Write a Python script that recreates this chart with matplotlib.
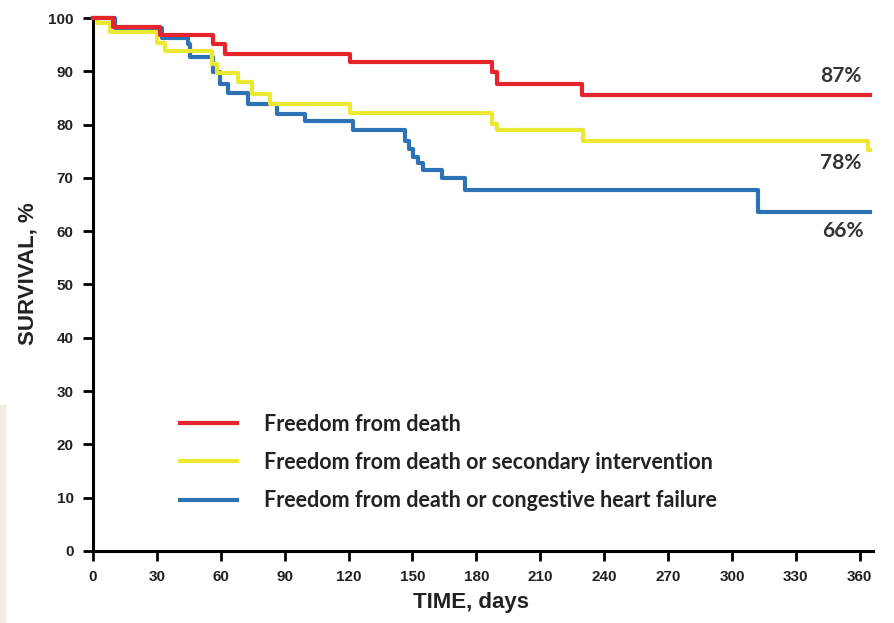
import matplotlib
matplotlib.use('Agg')
import matplotlib.pyplot as plt
from matplotlib.patches import Rectangle

# Kaplan-Meier style step data (days, survival %)
death_days = [0, 9.4, 31.5, 56.3, 62, 120.7, 187.2, 189.5, 229.4, 365]
death_surv = [100, 98.3, 96.8, 95.1, 93.3, 91.8, 89.8, 87.7, 85.5, 85.5]

interv_days = [0, 2, 8, 30, 33.8, 55.9, 58.2, 68, 74.6, 83, 120.7, 187.2, 189.5, 230, 364, 365]
interv_surv = [100, 99.1, 97.3, 95.4, 93.8, 91.4, 89.7, 87.9, 85.8, 83.9, 82.2, 80.2, 78.9, 77.0, 75.3, 75.3]

chf_days = [0, 10.3, 32.4, 44.6, 45.5, 56.3, 59.6, 63.4, 72.8, 86.4, 99.5, 122, 146.5, 148.4,
            150.3, 152.5, 155, 164, 174.6, 312, 365]
chf_surv = [100, 98.2, 96.3, 95.1, 92.6, 89.8, 87.7, 86.0, 83.9, 82.0, 80.7, 78.9, 77.0, 75.4,
            74.0, 72.8, 71.5, 70.0, 67.7, 63.6, 63.6]

labels = ['Freedom from death',
          'Freedom from death or secondary intervention',
          'Freedom from death or congestive heart failure']
end_labels = ['87%', '78%', '66%']
end_label_pos = [(351, 89.2), (351, 72.8), (352, 60.0)]

red = '#e5242b'
yellow = '#ebe832'
blue = '#2e72b6'

fig = plt.figure(figsize=(8.95, 6.23), dpi=100)
fig.patches.append(Rectangle((0, 0), 5 / 895, 0.35, transform=fig.transFigure,
                             color='#f1efdf', zorder=0))
ax = fig.add_axes([0.1039, 0.1156, 0.871, 0.8555])

ax.step(death_days, death_surv, where='post', color=red, lw=3, clip_on=False, zorder=4)
ax.step(interv_days, interv_surv, where='post', color=yellow, lw=3, clip_on=False, zorder=3)
ax.step(chf_days, chf_surv, where='post', color=blue, lw=3, clip_on=False, zorder=2)

for txt, (x, y) in zip(end_labels, end_label_pos):
    ax.text(x, y, txt, ha='center', va='center', fontsize=15, fontweight='bold',
            family='Lato', color='#333333')

ax.set_xlim(0, 366)
ax.set_ylim(0, 100)
ax.set_xticks(range(0, 361, 30))
ax.set_yticks(range(0, 101, 10))

for s in ['top', 'right']:
    ax.spines[s].set_visible(False)
for s in ['left', 'bottom']:
    ax.spines[s].set_linewidth(2.2)
ax.tick_params(direction='out', length=7, width=2, labelsize=11)
ax.tick_params(axis='x', pad=7)
ax.tick_params(axis='y', pad=7)
for lab in ax.get_xticklabels() + ax.get_yticklabels():
    lab.set_fontweight('bold')
    lab.set_family('Liberation Sans')
    lab.set_color('#222222')

ax.set_xlabel('TIME, days', fontsize=16, fontweight='bold', family='Liberation Sans',
              color='#222222')
ax.set_ylabel('SURVIVAL, %', fontsize=16, fontweight='bold', family='Liberation Sans',
              color='#222222')
ax.xaxis.set_label_coords(0.485, -0.077)
ax.yaxis.set_label_coords(-0.07, 0.52)

handles = [plt.Line2D([], [], color=c, lw=3) for c in (red, yellow, blue)]
leg = ax.legend(handles, labels, loc='center left', bbox_to_anchor=(0.112, 0.166),
                frameon=False, borderpad=0, borderaxespad=0, handlelength=2.65,
                handletextpad=1.25, labelspacing=0.8,
                prop={'family': 'Lato', 'weight': 'bold', 'size': 15.5})
for t in leg.get_texts():
    t.set_color('#222222')

fig.savefig('out.png', dpi=100)
